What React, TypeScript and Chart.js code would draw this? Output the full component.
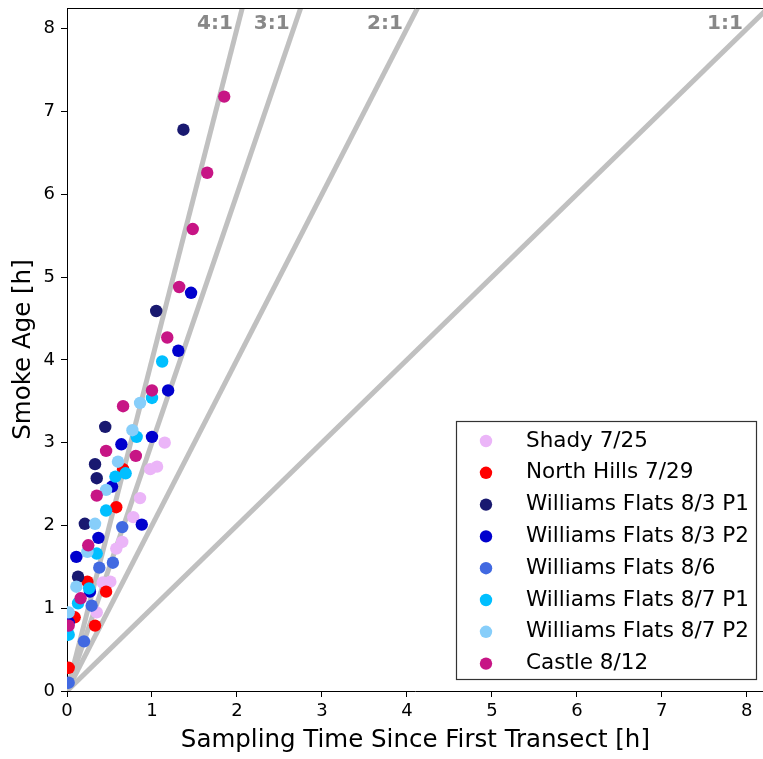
import React, { useEffect, useRef } from 'react';
import { Chart, registerables } from 'chart.js';

Chart.register(...registerables);

const FONT = "'DejaVu Sans', 'Liberation Sans', sans-serif";

const seriesNames = [
  'Shady 7/25',
  'North Hills 7/29',
  'Williams Flats 8/3 P1',
  'Williams Flats 8/3 P2',
  'Williams Flats 8/6',
  'Williams Flats 8/7 P1',
  'Williams Flats 8/7 P2',
  'Castle 8/12',
];
const seriesColors = ['#EBB5F8', '#FF0000', '#191970', '#0000CD', '#4169E1', '#00BFFF', '#87CEFA', '#C71585'];

const shadyX = [1.15, 1.06, 0.98, 0.86, 0.78, 0.65, 0.58, 0.42, 0.51, 0.35];
const shadyY = [3.0, 2.71, 2.68, 2.33, 2.1, 1.8, 1.72, 1.31, 1.32, 0.95];

const northHillsX = [0.02, 0.09, 0.33, 0.46, 0.24, 0.58, 0.66];
const northHillsY = [0.28, 0.89, 0.79, 1.2, 1.32, 2.22, 2.68];

const wf83p1X = [1.37, 1.05, 0.45, 0.33, 0.35, 0.21, 0.13];
const wf83p1Y = [6.78, 4.59, 3.19, 2.74, 2.57, 2.02, 1.38];

const wf83p2X = [1.46, 1.31, 1.19, 1.0, 0.64, 0.53, 0.88, 0.37, 0.11, 0.27, 0.02];
const wf83p2Y = [4.81, 4.11, 3.63, 3.07, 2.98, 2.47, 2.01, 1.85, 1.62, 1.2, 0.83];

const wf86X = [0.65, 0.54, 0.38, 0.29, 0.2, 0.02];
const wf86Y = [1.98, 1.55, 1.49, 1.03, 0.6, 0.1];

const wf87p1X = [1.12, 1.0, 0.82, 0.69, 0.57, 0.46, 0.35, 0.26, 0.13, 0.02];
const wf87p1Y = [3.98, 3.54, 3.07, 2.63, 2.59, 2.18, 1.66, 1.24, 1.06, 0.68];

const wf87p2X = [0.86, 0.77, 0.6, 0.46, 0.33, 0.24, 0.11, 0.02];
const wf87p2Y = [3.48, 3.15, 2.77, 2.43, 2.02, 1.68, 1.26, 0.95];

const castleX = [1.85, 1.65, 1.48, 1.32, 1.18, 1.0, 0.66, 0.46, 0.81, 0.35, 0.25, 0.16, 0.02];
const castleY = [7.18, 6.26, 5.58, 4.88, 4.27, 3.63, 3.44, 2.9, 2.84, 2.36, 1.76, 1.12, 0.79];

const seriesX = [shadyX, northHillsX, wf83p1X, wf83p2X, wf86X, wf87p1X, wf87p2X, castleX];
const seriesY = [shadyY, northHillsY, wf83p1Y, wf83p2Y, wf86Y, wf87p1Y, wf87p2Y, castleY];

const ratioValues = [4, 3, 2, 1];
const ratioLabels = ['4:1', '3:1', '2:1', '1:1'];
const ratioLabelY = 8;

const xMin = 0;
const xMax = 8.2;
const yMin = 0;
const yMax = 8.25;

const xTitle = 'Sampling Time Since First Transect [h]';
const yTitle = 'Smoke Age [h]';

const overlayPlugin = {
  id: 'overlay',
  afterDatasetsDraw(chart: any) {
    const { ctx, chartArea, scales } = chart;
    ctx.save();
    // top spine
    ctx.strokeStyle = '#000';
    ctx.lineWidth = 1;
    ctx.beginPath();
    ctx.moveTo(chartArea.left, chartArea.top + 0.5);
    ctx.lineTo(chartArea.right, chartArea.top + 0.5);
    ctx.stroke();

    // ratio labels
    ctx.font = `bold 20px ${FONT}`;
    ctx.fillStyle = '#888888';
    ctx.textAlign = 'right';
    ctx.textBaseline = 'alphabetic';
    ratioValues.forEach((r, i) => {
      const px = scales.x.getPixelForValue(ratioLabelY / r) - 4;
      const py = scales.y.getPixelForValue(ratioLabelY);
      ctx.fillText(ratioLabels[i], px, py);
    });

    // legend
    const bx = 456.5;
    const by = 421.5;
    const bw = 300;
    const bh = 258;
    ctx.fillStyle = '#ffffff';
    ctx.fillRect(bx, by, bw, bh);
    ctx.strokeStyle = '#333333';
    ctx.lineWidth = 1.2;
    ctx.strokeRect(bx, by, bw, bh);
    ctx.font = `21.5px ${FONT}`;
    ctx.textAlign = 'left';
    ctx.textBaseline = 'middle';
    seriesNames.forEach((name, i) => {
      const cy = 441 + i * 31.8;
      ctx.fillStyle = seriesColors[i];
      ctx.beginPath();
      ctx.arc(486, cy, 6.2, 0, Math.PI * 2);
      ctx.fill();
      ctx.fillStyle = '#000000';
      ctx.fillText(name, 526, cy);
    });
    ctx.restore();
  },
};

const CANVAS_W = 770;
const CANVAS_H = 759;

export default function App() {
  const canvasRef = useRef<HTMLCanvasElement | null>(null);

  useEffect(() => {
    document.body.style.margin = '0';
    const canvas = canvasRef.current;
    if (!canvas) return;

    const lineDatasets = ratioValues.map((r, i) => ({
      type: 'line' as const,
      label: ratioLabels[i],
      data: [
        { x: 0, y: 0 },
        { x: 20, y: 20 * r },
      ],
      borderColor: '#C0C0C0',
      borderWidth: 5,
      pointRadius: 0,
      showLine: true,
      fill: false,
      order: 20,
    }));

    const scatterDatasets = seriesNames.map((name, i) => ({
      type: 'scatter' as const,
      label: name,
      data: seriesX[i].map((x, j) => ({ x, y: seriesY[i][j] })),
      backgroundColor: seriesColors[i],
      borderColor: seriesColors[i],
      borderWidth: 0,
      pointRadius: 6.2,
      order: 8 - i,
    }));

    const axisCommon = {
      grid: {
        display: true,
        drawOnChartArea: false,
        drawTicks: true,
        tickLength: 6,
        color: '#000000',
        lineWidth: 1,
      },
      border: { display: true, color: '#000000', width: 1 },
    };

    const chart = new Chart(canvas, {
      type: 'scatter',
      data: { datasets: [...scatterDatasets, ...lineDatasets] as any },
      options: {
        responsive: false,
        animation: false,
        devicePixelRatio: 1,
        layout: { padding: { left: 0, right: 0, top: 8, bottom: 0 } },
        plugins: {
          legend: { display: false },
          tooltip: { enabled: false },
        },
        scales: {
          x: {
            type: 'linear',
            position: 'bottom',
            min: xMin,
            max: xMax,
            ...axisCommon,
            ticks: {
              stepSize: 1,
              includeBounds: false,
              color: '#000000',
              font: { family: FONT, size: 18 },
              padding: 4,
              maxRotation: 0,
            },
            title: {
              display: true,
              text: xTitle,
              color: '#000000',
              font: { family: FONT, size: 24.5 },
              padding: { top: 0, bottom: 4 },
            },
            afterFit(scale: any) {
              scale.height = 68;
              scale.paddingLeft = 0;
              scale.paddingRight = 0;
              scale.paddingTop = 0;
              scale.paddingBottom = 0;
            },
          },
          y: {
            type: 'linear',
            min: yMin,
            max: yMax,
            ...axisCommon,
            ticks: {
              stepSize: 1,
              includeBounds: false,
              color: '#000000',
              font: { family: FONT, size: 18 },
              padding: 6,
            },
            title: {
              display: true,
              text: yTitle,
              color: '#000000',
              font: { family: FONT, size: 24.5 },
              padding: { top: 9, bottom: 0 },
            },
            afterFit(scale: any) {
              scale.width = 67;
              scale.paddingLeft = 0;
              scale.paddingRight = 0;
              scale.paddingTop = 0;
              scale.paddingBottom = 0;
            },
          },
        },
      } as any,
      plugins: [overlayPlugin],
    });

    return () => {
      chart.destroy();
    };
  }, []);

  return (
    <div style={{ width: 763, height: 759, overflow: 'hidden' }}>
      <canvas ref={canvasRef} width={CANVAS_W} height={CANVAS_H} style={{ display: 'block' }} />
    </div>
  );
}
